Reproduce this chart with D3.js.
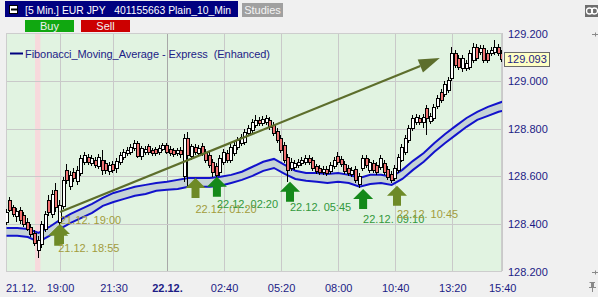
<!DOCTYPE html>
<html>
<head>
<meta charset="utf-8">
<script src="https://cdn.jsdelivr.net/npm/d3@7"></script>
<style>
  html, body { margin: 0; padding: 0; background: #f0f0f0; }
  svg { display: block; font-family: "Liberation Sans", Arial, sans-serif; }
</style>
</head>
<body>
<div id="chart"></div>
<script>
// 10 minute candles, 21.12. 16:30 -> 22.12. 15:40
const firstBar = '21.12. 16:30';
const lastBar = '22.12. 15:40';
const barMinutes = 10;

const candleOpen = [
  128.408, 128.501, 128.471, 128.434, 128.459, 128.438, 128.408, 128.387, 128.362, 128.291,
  128.316, 128.379, 128.501, 128.442, 128.543, 128.408, 128.476, 128.627, 128.560, 128.619,
  128.581, 128.614, 128.661, 128.682, 128.656, 128.669, 128.644, 128.669, 128.656, 128.623,
  128.652, 128.635, 128.661, 128.682, 128.698, 128.703, 128.719, 128.740, 128.686, 128.703,
  128.728, 128.711, 128.715, 128.703, 128.715, 128.732, 128.715, 128.711, 128.698, 128.711,
  128.602, 128.761, 128.686, 128.724, 128.698, 128.728, 128.703, 128.690, 128.661, 128.644,
  128.619, 128.661, 128.698, 128.669, 128.698, 128.724, 128.740, 128.745, 128.782, 128.795,
  128.816, 128.837, 128.824, 128.829, 128.837, 128.816, 128.791, 128.761, 128.732, 128.682,
  128.635, 128.640, 128.648, 128.656, 128.661, 128.677, 128.669, 128.644, 128.635, 128.619,
  128.631, 128.623, 128.644, 128.686, 128.673, 128.652, 128.635, 128.610, 128.631, 128.568,
  128.635, 128.677, 128.627, 128.656, 128.648, 128.640, 128.656, 128.631, 128.610, 128.593,
  128.627, 128.669, 128.703, 128.753, 128.803, 128.829, 128.845, 128.829, 128.887, 128.833,
  128.845, 128.896, 128.954, 128.946, 128.963, 129.013, 129.118, 129.097, 129.055, 129.055,
  129.060, 129.089, 129.144, 129.123, 129.140, 129.118, 129.118, 129.123, 129.144, 129.118
];
const candleHigh = [
  128.463, 128.513, 128.480, 128.467, 128.471, 128.450, 128.425, 128.400, 128.375, 128.350,
  128.413, 128.455, 128.522, 128.543, 128.572, 128.501, 128.598, 128.652, 128.623, 128.635,
  128.644, 128.690, 128.703, 128.694, 128.690, 128.682, 128.694, 128.711, 128.669, 128.661,
  128.665, 128.677, 128.703, 128.715, 128.724, 128.736, 128.753, 128.749, 128.728, 128.728,
  128.736, 128.719, 128.724, 128.732, 128.740, 128.740, 128.728, 128.719, 128.719, 128.724,
  128.778, 128.787, 128.736, 128.736, 128.732, 128.740, 128.715, 128.703, 128.673, 128.656,
  128.690, 128.715, 128.711, 128.736, 128.745, 128.766, 128.778, 128.799, 128.816, 128.841,
  128.858, 128.850, 128.854, 128.858, 128.850, 128.829, 128.803, 128.774, 128.745, 128.694,
  128.677, 128.669, 128.673, 128.682, 128.690, 128.690, 128.682, 128.652, 128.648, 128.644,
  128.644, 128.661, 128.682, 128.703, 128.686, 128.665, 128.648, 128.640, 128.644, 128.614,
  128.690, 128.690, 128.673, 128.669, 128.661, 128.690, 128.669, 128.644, 128.623, 128.648,
  128.694, 128.736, 128.774, 128.816, 128.858, 128.862, 128.858, 128.862, 128.900, 128.866,
  128.904, 128.942, 128.967, 129.001, 129.018, 129.144, 129.131, 129.110, 129.110, 129.089,
  129.131, 129.161, 129.157, 129.152, 129.152, 129.131, 129.144, 129.173, 129.157, 129.131
];
const candleLow = [
  128.396, 128.450, 128.429, 128.408, 128.400, 128.387, 128.371, 128.345, 128.308, 128.257,
  128.299, 128.366, 128.434, 128.425, 128.450, 128.366, 128.463, 128.568, 128.543, 128.577,
  128.564, 128.602, 128.648, 128.648, 128.644, 128.635, 128.631, 128.606, 128.610, 128.606,
  128.614, 128.614, 128.648, 128.669, 128.686, 128.690, 128.707, 128.677, 128.669, 128.690,
  128.690, 128.686, 128.686, 128.690, 128.707, 128.694, 128.686, 128.682, 128.686, 128.677,
  128.577, 128.560, 128.669, 128.690, 128.686, 128.686, 128.656, 128.635, 128.598, 128.593,
  128.602, 128.648, 128.656, 128.656, 128.686, 128.711, 128.728, 128.732, 128.770, 128.782,
  128.803, 128.812, 128.812, 128.816, 128.795, 128.770, 128.740, 128.698, 128.656, 128.577,
  128.623, 128.627, 128.635, 128.644, 128.648, 128.648, 128.623, 128.610, 128.606, 128.606,
  128.602, 128.610, 128.631, 128.648, 128.640, 128.610, 128.602, 128.598, 128.572, 128.551,
  128.623, 128.635, 128.614, 128.614, 128.606, 128.627, 128.606, 128.585, 128.572, 128.581,
  128.614, 128.661, 128.690, 128.740, 128.791, 128.816, 128.816, 128.803, 128.774, 128.820,
  128.833, 128.883, 128.908, 128.933, 128.950, 129.001, 129.055, 129.047, 129.039, 129.043,
  129.047, 129.076, 129.085, 129.110, 129.076, 129.076, 129.106, 129.110, 129.106, 129.081
];
const candleClose = [
  128.450, 128.459, 128.442, 128.455, 128.417, 128.400, 128.379, 128.358, 128.320, 128.333,
  128.400, 128.442, 128.450, 128.526, 128.471, 128.480, 128.585, 128.585, 128.606, 128.593,
  128.627, 128.677, 128.690, 128.661, 128.677, 128.648, 128.682, 128.627, 128.627, 128.648,
  128.627, 128.665, 128.690, 128.703, 128.711, 128.724, 128.740, 128.686, 128.719, 128.715,
  128.703, 128.698, 128.698, 128.719, 128.732, 128.703, 128.698, 128.694, 128.711, 128.694,
  128.761, 128.690, 128.728, 128.703, 128.719, 128.698, 128.669, 128.648, 128.619, 128.606,
  128.677, 128.703, 128.669, 128.724, 128.732, 128.753, 128.766, 128.787, 128.803, 128.829,
  128.837, 128.824, 128.841, 128.845, 128.808, 128.782, 128.753, 128.711, 128.669, 128.627,
  128.661, 128.656, 128.661, 128.669, 128.677, 128.661, 128.635, 128.623, 128.619, 128.631,
  128.614, 128.648, 128.669, 128.661, 128.652, 128.623, 128.614, 128.627, 128.585, 128.602,
  128.677, 128.648, 128.661, 128.627, 128.619, 128.677, 128.619, 128.598, 128.585, 128.635,
  128.682, 128.724, 128.761, 128.803, 128.845, 128.850, 128.829, 128.850, 128.845, 128.854,
  128.892, 128.929, 128.921, 128.988, 129.005, 129.118, 129.068, 129.060, 129.097, 129.076,
  129.118, 129.144, 129.097, 129.140, 129.089, 129.089, 129.131, 129.144, 129.118, 129.093
];

// Fibonacci moving average band, one value every 30 min (last one at 15:40)
const bandUpper = [
  128.383, 128.383, 128.379, 128.362, 128.387, 128.417, 128.442, 128.463, 128.484, 128.509,
  128.530, 128.543, 128.556, 128.564, 128.572, 128.577, 128.585, 128.593, 128.593, 128.593,
  128.598, 128.606, 128.619, 128.640, 128.661, 128.673, 128.648, 128.623, 128.614, 128.614,
  128.610, 128.614, 128.606, 128.593, 128.606, 128.606, 128.598, 128.627, 128.665, 128.698,
  128.740, 128.778, 128.812, 128.845, 128.871, 128.892, 128.908, 128.913
];
const bandLower = [
  128.350, 128.350, 128.345, 128.324, 128.350, 128.379, 128.404, 128.425, 128.446, 128.476,
  128.492, 128.505, 128.518, 128.526, 128.539, 128.543, 128.547, 128.556, 128.556, 128.556,
  128.560, 128.572, 128.585, 128.602, 128.623, 128.635, 128.610, 128.589, 128.581, 128.577,
  128.572, 128.577, 128.572, 128.556, 128.568, 128.572, 128.564, 128.589, 128.627, 128.661,
  128.703, 128.740, 128.774, 128.808, 128.837, 128.854, 128.871, 128.875
];

// buy signals
const signalTimes = ['21.12. 18:55', '21.12. 19:00', '22.12. 01:20', '22.12. 02:20', '22.12. 05:45', '22.12. 09:10', '22.12. 10:45'];
const signalPrices = [128.392, 128.400, 128.593, 128.598, 128.577, 128.547, 128.560];
const signalLabelPrices = [128.299, 128.417, 128.463, 128.484, 128.471, 128.421, 128.442];
const signalKinds = ['olive', 'olive', 'olive', 'green', 'green', 'green', 'olive'];

// trend arrow
const trendTimes = ['21.12. 19:00', '22.12. 12:45'];
const trendPrices = [128.450, 129.097];

const tickTimes = ['21.12. 19:00', '21.12. 21:30', '22.12. 00:00', '22.12. 02:40', '22.12. 05:20', '22.12. 08:00', '22.12. 10:40', '22.12. 13:20', '22.12. 15:40'];
const tickLabels = ['19:00', '21:30', '22.12.', '02:40', '05:20', '08:00', '10:40', '13:20', '15:40'];
const priceTicks = [128.2, 128.4, 128.6, 128.8, 129.0, 129.2];
const lastPrice = 129.093;
const sessionBreak = ['21.12. 17:50', '21.12. 18:05'];

const W = 598, H = 297;
const plot = {left: 6, right: 502, top: 33, bottom: 271};
const NAVY = '#1c1c86';

const parse = d3.timeParse('%d.%m. %H:%M');
const t0 = parse(firstBar);
const barTime = i => d3.timeMinute.offset(t0, i * barMinutes);

const candles = candleOpen.map((o, i) => ({
  t: barTime(i), o: o, h: candleHigh[i], l: candleLow[i], c: candleClose[i]
}));
const bandIdx = d3.range(0, candles.length - 1, 3).concat([candles.length - 1]);
const band = bandUpper.map((u, i) => ({t: barTime(bandIdx[i]), u: u, lo: bandLower[i]}));

const x = d3.scaleTime()
  .domain([t0, parse(lastBar)])
  .range([6.5, 502.2]);
const y = d3.scaleLinear()
  .domain([128.2, 129.2])
  .range([271.5, 33.5]);

const svg = d3.select('#chart').append('svg')
  .attr('width', W)
  .attr('height', H);

// ---------- header / buttons ----------
svg.append('rect').attr('x', 5).attr('y', 1).attr('width', 233).attr('height', 16).attr('fill', '#000080');
svg.append('rect').attr('x', 9.5).attr('y', 5.5).attr('width', 8).attr('height', 8)
  .attr('fill', '#fff').attr('stroke', '#000');
svg.append('line').attr('x1', 11).attr('x2', 17).attr('y1', 9.5).attr('y2', 9.5).attr('stroke', '#000').attr('stroke-width', 2);
svg.append('text').attr('x', 25).attr('y', 13.5).attr('fill', '#fff').attr('font-size', 10.5)
  .attr('xml:space', 'preserve')
  .attr('textLength', 206).attr('lengthAdjust', 'spacingAndGlyphs')
  .text('[5 Min.] EUR JPY   401155663 Plain_10_Min');

svg.append('rect').attr('x', 242).attr('y', 3).attr('width', 41).attr('height', 14).attr('fill', '#a0a0a0');
svg.append('text').attr('x', 262.5).attr('y', 14).attr('text-anchor', 'middle')
  .attr('fill', '#f4f4f4').attr('font-size', 11).text('Studies');

const buttons = [
  {label: 'Buy', x: 25, fill: '#10a810'},
  {label: 'Sell', x: 81, fill: '#cc0000'}
];
buttons.forEach(b => {
  svg.append('rect').attr('x', b.x).attr('y', 20).attr('width', 49).attr('height', 12).attr('fill', b.fill);
  svg.append('text').attr('x', b.x + 24.5).attr('y', 30).attr('text-anchor', 'middle')
    .attr('fill', '#f0f0f0').attr('font-size', 11).text(b.label);
});

// top right icon
svg.append('rect').attr('x', 585).attr('y', 5).attr('width', 13).attr('height', 12).attr('fill', '#6e6e6e');
[589.5, 594.5].forEach(cx => {
  svg.append('circle').attr('cx', cx).attr('cy', 11).attr('r', 3)
    .attr('fill', 'none').attr('stroke', '#fff').attr('stroke-width', 1.3);
});

// ---------- plot area ----------
const defs = svg.append('defs');
defs.append('clipPath').attr('id', 'plot-clip')
  .append('rect')
  .attr('x', plot.left).attr('y', plot.top)
  .attr('width', plot.right - plot.left).attr('height', plot.bottom - plot.top);

svg.append('rect')
  .attr('x', plot.left).attr('y', plot.top)
  .attr('width', plot.right - plot.left).attr('height', plot.bottom - plot.top)
  .attr('fill', '#e1f3e1');

const sb = sessionBreak.map(parse);
svg.append('rect')
  .attr('x', x(sb[0])).attr('y', plot.top)
  .attr('width', x(sb[1]) - x(sb[0])).attr('height', plot.bottom - plot.top)
  .attr('fill', '#f7d9dc');

const tickDates = tickTimes.map(parse);

// vertical grid
const xGrid = svg.append('g')
  .attr('transform', `translate(0,${plot.bottom})`)
  .call(d3.axisBottom(x).tickValues(tickDates).tickSize(-(plot.bottom - plot.top)).tickFormat(''));
xGrid.select('.domain').remove();
xGrid.selectAll('.tick line')
  .attr('stroke', (d, i) => tickLabels[i] === '22.12.' ? '#a8a8a8' : '#c9c9c9')
  .attr('shape-rendering', 'crispEdges');

// horizontal grid
const yGrid = svg.append('g')
  .attr('transform', `translate(${plot.left},0)`)
  .call(d3.axisRight(y).tickValues(priceTicks.slice(1, -1)).tickSize(plot.right - plot.left).tickFormat(''));
yGrid.select('.domain').remove();
yGrid.selectAll('.tick line').attr('stroke', '#c9c9c9').attr('shape-rendering', 'crispEdges');

svg.append('rect')
  .attr('x', plot.left + 0.5).attr('y', plot.top + 0.5)
  .attr('width', plot.right - plot.left - 1).attr('height', plot.bottom - plot.top)
  .attr('fill', 'none').attr('stroke', '#cdcdcd');

const inner = svg.append('g').attr('clip-path', 'url(#plot-clip)');

// legend
svg.append('line').attr('x1', 10).attr('x2', 23).attr('y1', 53.5).attr('y2', 53.5)
  .attr('stroke', '#000080').attr('stroke-width', 2);
svg.append('text').attr('x', 25).attr('y', 57.5).attr('fill', NAVY).attr('font-size', 11)
  .attr('xml:space', 'preserve')
  .attr('textLength', 245).attr('lengthAdjust', 'spacing')
  .text('Fibonacci_Moving_Average - Express  (Enhanced)');

// ---------- FMA band ----------
inner.append('path')
  .datum(band)
  .attr('fill', '#c5d3d5')
  .attr('d', d3.area().x(d => x(d.t)).y0(d => y(d.lo)).y1(d => y(d.u)));
['u', 'lo'].forEach(k => {
  inner.append('path')
    .datum(band)
    .attr('fill', 'none')
    .attr('stroke', '#1212cc')
    .attr('stroke-width', 2)
    .attr('d', d3.line().x(d => x(d.t)).y(d => y(d[k])));
});

// ---------- candles ----------
const cg = inner.append('g').attr('shape-rendering', 'crispEdges');
candles.forEach(d => {
  const cx = Math.round(x(d.t));
  cg.append('line')
    .attr('x1', cx - 0.5).attr('x2', cx - 0.5)
    .attr('y1', y(d.h)).attr('y2', y(d.l))
    .attr('stroke', '#000');
  const top = Math.round(y(Math.max(d.o, d.c))) + 0.5;
  const bot = Math.round(y(Math.min(d.o, d.c))) + 0.5;
  cg.append('rect')
    .attr('x', cx - 1.5).attr('width', 3)
    .attr('y', top).attr('height', Math.max(bot - top, 1))
    .attr('fill', d.c >= d.o ? '#ffffff' : '#f07272')
    .attr('stroke', '#000');
});

// ---------- signals ----------
const arrowFill = {olive: '#6e8a27', green: '#14891a'};
const labelFill = {olive: '#a29c3c', green: '#32983c'};
signalTimes.forEach((s, i) => {
  const sx = x(parse(s));
  const sy = y(signalPrices[i]);
  inner.append('path')
    .attr('fill', arrowFill[signalKinds[i]])
    .attr('d', `M${sx},${sy} L${sx + 10},${sy + 10} L${sx + 4},${sy + 10} L${sx + 4},${sy + 20} ` +
      `L${sx - 4},${sy + 20} L${sx - 4},${sy + 10} L${sx - 10},${sy + 10} Z`);
});
signalTimes.forEach((s, i) => {
  inner.append('text')
    .attr('x', x(parse(s)))
    .attr('y', y(signalLabelPrices[i]) + 4)
    .attr('fill', labelFill[signalKinds[i]])
    .attr('font-size', 11)
    .text(s);
});

// ---------- trend arrow ----------
const ta = {x: x(parse(trendTimes[0])), y: y(trendPrices[0])};
const tb = {x: x(parse(trendTimes[1])), y: y(trendPrices[1])};
const ang = Math.atan2(tb.y - ta.y, tb.x - ta.x);
const headLen = 21, headHalf = 7;
const bx = tb.x - headLen * Math.cos(ang), by = tb.y - headLen * Math.sin(ang);
inner.append('line')
  .attr('x1', ta.x).attr('y1', ta.y).attr('x2', bx).attr('y2', by)
  .attr('stroke', '#5d6e2c').attr('stroke-width', 2.2);
inner.append('path')
  .attr('fill', '#5d6e2c')
  .attr('d', `M${tb.x},${tb.y} L${bx + headHalf * Math.sin(ang)},${by - headHalf * Math.cos(ang)} ` +
    `L${bx - headHalf * Math.sin(ang)},${by + headHalf * Math.cos(ang)} Z`);

// ---------- axes ----------
const xAxis = svg.append('g')
  .attr('transform', `translate(0,${plot.bottom})`)
  .call(d3.axisBottom(x).tickValues(tickDates).tickSize(0).tickPadding(0)
    .tickFormat((d, i) => tickLabels[i]));
xAxis.select('.domain').remove();
xAxis.selectAll('text')
  .attr('y', 0).attr('dy', 21)
  .attr('fill', NAVY)
  .attr('font-size', 11)
  .attr('font-family', '"Liberation Sans", Arial, sans-serif')
  .attr('font-weight', (d, i) => tickLabels[i] === '22.12.' ? 'bold' : 'normal');
svg.append('text').attr('x', 6).attr('y', plot.bottom + 21).attr('fill', NAVY)
  .attr('font-size', 11).text(d3.timeFormat('%d.%m.')(t0));

const yAxis = svg.append('g')
  .attr('transform', `translate(${plot.right},0)`)
  .call(d3.axisRight(y).tickValues(priceTicks).tickSize(0).tickPadding(6).tickFormat(d3.format('.3f')));
yAxis.select('.domain').remove();
yAxis.selectAll('text')
  .attr('fill', NAVY)
  .attr('font-size', 11)
  .attr('font-family', '"Liberation Sans", Arial, sans-serif');

// scale edge markers
[priceTicks[0], priceTicks[priceTicks.length - 1]].forEach(p => {
  const yy = Math.round(y(p)) + 0.5;
  svg.append('line').attr('x1', 592).attr('x2', 598).attr('y1', yy).attr('y2', yy).attr('stroke', '#8a8a8a');
  svg.append('line').attr('x1', 595.5).attr('x2', 595.5).attr('y1', yy - 2).attr('y2', yy + 2).attr('stroke', '#8a8a8a');
});

// last price box
const ly = y(lastPrice);
svg.append('rect').attr('x', 504.5).attr('y', Math.round(ly) - 6.5).attr('width', 45).attr('height', 14)
  .attr('fill', '#ffffc4').attr('stroke', '#6a6a6a');
svg.append('text').attr('x', 507).attr('y', ly + 4).attr('fill', NAVY).attr('font-size', 11)
  .text(d3.format('.3f')(lastPrice));

// pin icon
svg.append('path')
  .attr('d', 'M589,282 h6 v1 h-1 v4 h2 v1 h-3 v4 h-1 v-4 h-3 v-1 h2 v-4 h-1 z')
  .attr('fill', '#8a8a8a');
</script>
</body>
</html>
